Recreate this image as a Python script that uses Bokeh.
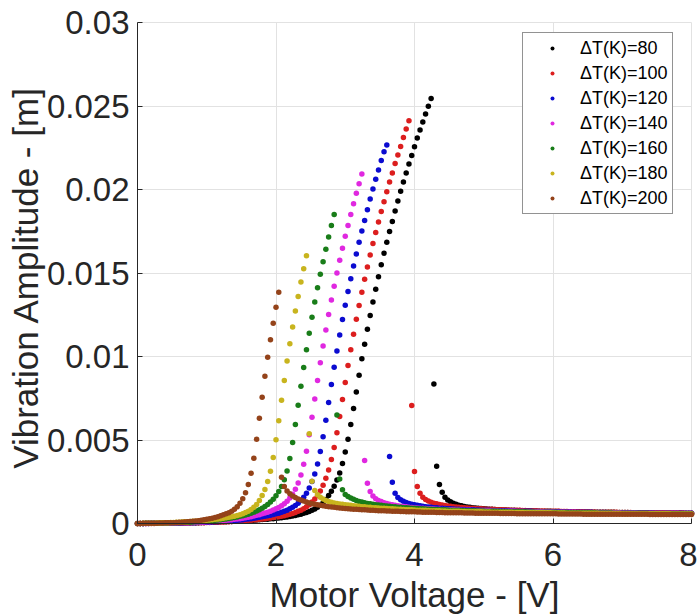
import math
from bokeh.plotting import figure
from bokeh.models import Range1d, FixedTicker, Legend, LegendItem, Label
from bokeh.embed import file_html
from bokeh.resources import INLINE

# ---- sweep grid (motor voltage, V) ----
voltage_step = 0.04
n_points = 201
voltage = [round(voltage_step * i, 2) for i in range(n_points)]

series_labels = ["ΔT(K)=80", "ΔT(K)=100", "ΔT(K)=120", "ΔT(K)=140",
                 "ΔT(K)=160", "ΔT(K)=180", "ΔT(K)=200"]
series_colors = ["#000000", "#dc1e1e", "#0b0bd0", "#e028e0",
                 "#197d19", "#c8b41e", "#94431a"]

x_ticks = [0, 2, 4, 6, 8]
x_tick_labels = ["0", "2", "4", "6", "8"]
y_ticks = [0, 0.005, 0.01, 0.015, 0.02, 0.025, 0.03]
y_tick_labels = ["0", "0.005", "0.01", "0.015", "0.02", "0.025", "0.03"]

# ---- vibration amplitude (m), dT = 80 K ----
amp_80_rise = [
    0, 0, 0, 0.00001, 0.00001, 0.00001, 0.00001, 0.00001, 0.00001, 0.00001,
    0.00001, 0.00002, 0.00002, 0.00002, 0.00002, 0.00003, 0.00003, 0.00003, 0.00004, 0.00004,
    0.00004, 0.00005, 0.00005, 0.00006, 0.00006, 0.00007, 0.00007, 0.00008, 0.00008, 0.00009,
    0.0001, 0.0001, 0.00011, 0.00012, 0.00012, 0.00013, 0.00014, 0.00015, 0.00016, 0.00017,
    0.00018, 0.00019, 0.0002, 0.00021, 0.00022, 0.00024, 0.00025, 0.00026, 0.00028, 0.00029,
    0.00031, 0.00033, 0.00035, 0.00037, 0.00039, 0.00042, 0.00045, 0.00048, 0.00052, 0.00056,
    0.00061, 0.00066, 0.00072, 0.00079, 0.00087, 0.00097, 0.00109, 0.00124, 0.00144, 0.00168,
    0.00193, 0.00223, 0.00261, 0.00303, 0.0036, 0.00428, 0.00505, 0.00593, 0.00688, 0.00788,
    0.00888, 0.00986, 0.01073, 0.01163, 0.01245, 0.01327, 0.01402, 0.01478, 0.0155, 0.01618,
    0.01684, 0.01748, 0.01809, 0.01871, 0.01931, 0.01989, 0.02045, 0.02099, 0.02153, 0.02204,
    0.02256, 0.02308, 0.02356, 0.02404, 0.02452, 0.02498, 0.02545]
amp_80_fall = [
    0.00836, 0.00343, 0.00233, 0.00187, 0.00157, 0.00141, 0.0013, 0.00122, 0.00115, 0.0011,
    0.00106, 0.00102, 0.00099, 0.00097,
    0.00095, 0.00093, 0.00091, 0.0009, 0.00088, 0.00087, 0.00086, 0.00085, 0.00084, 0.00083,
    0.00082, 0.00081, 0.00081, 0.0008, 0.00079, 0.00079, 0.00078, 0.00078, 0.00077, 0.00077,
    0.00076, 0.00076, 0.00075, 0.00075, 0.00074, 0.00074, 0.00074, 0.00073, 0.00073, 0.00072,
    0.00072, 0.00072, 0.00071, 0.00071, 0.00071, 0.0007, 0.0007, 0.0007, 0.0007, 0.00069,
    0.00069, 0.00069, 0.00069, 0.00068, 0.00068, 0.00068, 0.00068, 0.00067, 0.00067, 0.00067,
    0.00067, 0.00067, 0.00066, 0.00066, 0.00066, 0.00066, 0.00066, 0.00065, 0.00065, 0.00065,
    0.00065, 0.00065, 0.00065, 0.00064, 0.00064, 0.00064, 0.00064, 0.00064, 0.00064, 0.00063,
    0.00063, 0.00063, 0.00063, 0.00063, 0.00063, 0.00063, 0.00062, 0.00062, 0.00062, 0.00062]

# ---- dT = 100 K ----
amp_100_rise = [
    0, 0, 0, 0, 0, 0, 0, 0.00001, 0.00001, 0.00001,
    0.00001, 0.00001, 0.00001, 0.00002, 0.00002, 0.00002, 0.00002, 0.00003, 0.00003, 0.00003,
    0.00004, 0.00004, 0.00004, 0.00005, 0.00005, 0.00006, 0.00006, 0.00007, 0.00007, 0.00008,
    0.00009, 0.00009, 0.0001, 0.00011, 0.00012, 0.00013, 0.00014, 0.00015, 0.00016, 0.00017,
    0.00019, 0.0002, 0.00022, 0.00023, 0.00025, 0.00027, 0.00029, 0.00031, 0.00033, 0.00036,
    0.00038, 0.00041, 0.00044, 0.00047, 0.00051, 0.00055, 0.0006, 0.00066, 0.00073, 0.0008,
    0.00089, 0.001, 0.00113, 0.00128, 0.00146, 0.00168, 0.00195, 0.00229, 0.00271, 0.00321,
    0.00383, 0.00455, 0.00543, 0.0064, 0.00742, 0.00844, 0.00946, 0.01041, 0.01133, 0.01223,
    0.01305, 0.01384, 0.01462, 0.01536, 0.01608, 0.01676, 0.01742, 0.01805, 0.01869, 0.01927,
    0.01987, 0.02045, 0.02099, 0.02155, 0.02206, 0.02258, 0.02312, 0.02362, 0.02412]
amp_100_fall = [
    0.00706, 0.00311, 0.00221, 0.00181, 0.00157, 0.00143, 0.00134, 0.00127, 0.00122, 0.00118,
    0.00114, 0.00111, 0.00108, 0.00105, 0.00103, 0.00101, 0.00099, 0.00097, 0.00096, 0.00094,
    0.00093, 0.00092,
    0.00091, 0.0009, 0.00089, 0.00088, 0.00087, 0.00086, 0.00085, 0.00085, 0.00084, 0.00083,
    0.00083, 0.00082, 0.00081, 0.00081, 0.0008, 0.0008, 0.00079, 0.00079, 0.00078, 0.00078,
    0.00077, 0.00077, 0.00076, 0.00076, 0.00075, 0.00075, 0.00075, 0.00074, 0.00074, 0.00073,
    0.00073, 0.00073, 0.00072, 0.00072, 0.00072, 0.00071, 0.00071, 0.00071, 0.0007, 0.0007,
    0.0007, 0.00069, 0.00069, 0.00069, 0.00069, 0.00068, 0.00068, 0.00068, 0.00068, 0.00067,
    0.00067, 0.00067, 0.00067, 0.00066, 0.00066, 0.00066, 0.00066, 0.00066, 0.00065, 0.00065,
    0.00065, 0.00065, 0.00065, 0.00065, 0.00064, 0.00064, 0.00064, 0.00064, 0.00064, 0.00064,
    0.00063, 0.00063, 0.00063, 0.00063, 0.00063, 0.00063, 0.00063, 0.00062, 0.00062, 0.00062]

# ---- dT = 120 K ----
amp_120_rise = [
    0, 0, 0, 0, 0, 0.00001, 0.00001, 0.00001, 0.00001, 0.00001,
    0.00002, 0.00002, 0.00002, 0.00002, 0.00003, 0.00003, 0.00003, 0.00004, 0.00004, 0.00004,
    0.00005, 0.00005, 0.00006, 0.00006, 0.00007, 0.00008, 0.00008, 0.00009, 0.0001, 0.00011,
    0.00012, 0.00013, 0.00014, 0.00015, 0.00016, 0.00018, 0.00019, 0.00021, 0.00023, 0.00025,
    0.00027, 0.00029, 0.00031, 0.00034, 0.00037, 0.0004, 0.00043, 0.00046, 0.0005, 0.00054,
    0.00058, 0.00062, 0.00067, 0.00073, 0.0008, 0.00088, 0.00097, 0.00108, 0.00121, 0.00137,
    0.00157, 0.00181, 0.00212, 0.00251, 0.00297, 0.00357, 0.00431, 0.00519, 0.00618, 0.00724,
    0.00832, 0.00936, 0.01033, 0.01129, 0.01221, 0.01307, 0.01389, 0.01466, 0.01542, 0.01614,
    0.01684, 0.01752, 0.01815, 0.01879, 0.01943, 0.02003, 0.02061, 0.02117, 0.02173, 0.02226,
    0.02266]
amp_120_fall = [
    0.00401, 0.00247, 0.00181, 0.00155, 0.00142, 0.00133, 0.00126, 0.0012, 0.00116, 0.00112,
    0.00109, 0.00106, 0.00103, 0.00101, 0.00099, 0.00097, 0.00095, 0.00094, 0.00092, 0.00091,
    0.0009, 0.00089, 0.00088, 0.00087, 0.00086, 0.00085, 0.00084, 0.00084, 0.00083, 0.00082,
    0.00082, 0.00081, 0.00081, 0.0008, 0.0008, 0.00079, 0.00079, 0.00078, 0.00078, 0.00077,
    0.00077, 0.00076, 0.00076, 0.00076, 0.00075, 0.00075, 0.00074, 0.00074, 0.00074, 0.00073,
    0.00073, 0.00073, 0.00072, 0.00072, 0.00072, 0.00071, 0.00071, 0.00071, 0.0007, 0.0007,
    0.0007, 0.0007, 0.00069, 0.00069, 0.00069, 0.00069, 0.00068, 0.00068, 0.00068, 0.00068,
    0.00067, 0.00067, 0.00067, 0.00067, 0.00066, 0.00066, 0.00066, 0.00066, 0.00066, 0.00065,
    0.00065, 0.00065, 0.00065, 0.00065, 0.00064, 0.00064, 0.00064, 0.00064, 0.00064, 0.00064,
    0.00063, 0.00063, 0.00063, 0.00063, 0.00063, 0.00063, 0.00062, 0.00062, 0.00062, 0.00062,
    0.00062, 0.00062, 0.00062, 0.00061, 0.00061, 0.00061, 0.00061, 0.00061, 0.00061, 0.00061]

# ---- dT = 140 K ----
amp_140_rise = [
    0, 0, 0, 0, 0.00001, 0.00001, 0.00001, 0.00001, 0.00002, 0.00002,
    0.00002, 0.00002, 0.00003, 0.00003, 0.00003, 0.00004, 0.00004, 0.00005, 0.00005, 0.00006,
    0.00006, 0.00007, 0.00008, 0.00008, 0.00009, 0.0001, 0.00011, 0.00012, 0.00013, 0.00014,
    0.00016, 0.00017, 0.00019, 0.00021, 0.00023, 0.00025, 0.00027, 0.00029, 0.00032, 0.00035,
    0.00038, 0.00041, 0.00045, 0.00049, 0.00053, 0.00058, 0.00063, 0.00068, 0.00074, 0.00081,
    0.00088, 0.00096, 0.00106, 0.00118, 0.00133, 0.00152, 0.00175, 0.00205, 0.00243, 0.00291,
    0.00355, 0.00433, 0.00531, 0.00636, 0.00746, 0.00856, 0.00962, 0.01063, 0.01159, 0.01251,
    0.01339, 0.0142, 0.015, 0.01576, 0.01648, 0.0172, 0.01785, 0.01851, 0.01915, 0.01977,
    0.02035, 0.02093]
amp_140_fall = [
    0.00377, 0.00241, 0.00192, 0.00164, 0.00148, 0.00138, 0.00131, 0.00125, 0.0012, 0.00116,
    0.00112, 0.00109, 0.00106, 0.00104, 0.00102, 0.001, 0.00098, 0.00096, 0.00095,
    0.00093, 0.00092, 0.00091, 0.0009, 0.00089, 0.00088, 0.00087, 0.00086, 0.00085, 0.00084,
    0.00084, 0.00083, 0.00082, 0.00082, 0.00081, 0.00081, 0.0008, 0.0008, 0.00079, 0.00079,
    0.00078, 0.00078, 0.00077, 0.00077, 0.00077, 0.00076, 0.00076, 0.00075, 0.00075, 0.00075,
    0.00074, 0.00074, 0.00074, 0.00073, 0.00073, 0.00073, 0.00072, 0.00072, 0.00072, 0.00071,
    0.00071, 0.00071, 0.0007, 0.0007, 0.0007, 0.0007, 0.00069, 0.00069, 0.00069, 0.00069,
    0.00068, 0.00068, 0.00068, 0.00068, 0.00067, 0.00067, 0.00067, 0.00067, 0.00066, 0.00066,
    0.00066, 0.00066, 0.00066, 0.00065, 0.00065, 0.00065, 0.00065, 0.00065, 0.00064, 0.00064,
    0.00064, 0.00064, 0.00064, 0.00064, 0.00063, 0.00063, 0.00063, 0.00063, 0.00063, 0.00063,
    0.00062, 0.00062, 0.00062, 0.00062, 0.00062, 0.00062, 0.00062, 0.00061, 0.00061, 0.00061,
    0.00061, 0.00061, 0.00061, 0.00061, 0.00061, 0.0006, 0.0006, 0.0006, 0.0006, 0.0006]

# ---- dT = 160 K ----
amp_160_rise = [
    0, 0, 0, 0.00001, 0.00001, 0.00001, 0.00002, 0.00002, 0.00002, 0.00003,
    0.00003, 0.00003, 0.00004, 0.00004, 0.00005, 0.00005, 0.00006, 0.00007, 0.00007, 0.00008,
    0.00009, 0.0001, 0.00011, 0.00012, 0.00013, 0.00014, 0.00016, 0.00017, 0.00019, 0.00021,
    0.00023, 0.00025, 0.00027, 0.0003, 0.00033, 0.00036, 0.00039, 0.00043, 0.00047, 0.00051,
    0.00056, 0.00062, 0.00068, 0.00075, 0.00083, 0.00092, 0.00102, 0.00114, 0.00128, 0.00145,
    0.00166, 0.00191, 0.00222, 0.00262, 0.00315, 0.00389, 0.00485, 0.00593, 0.00708, 0.00822,
    0.00934, 0.0104, 0.01139, 0.01235, 0.01327, 0.01411, 0.01492, 0.01568, 0.01642, 0.01716,
    0.01784, 0.01851]
amp_160_fall = [
    0.0065, 0.00267, 0.00202, 0.00174, 0.00161, 0.00152, 0.00145, 0.00138, 0.00132, 0.00128,
    0.00124, 0.0012, 0.00118, 0.00115, 0.00113, 0.00111, 0.00109, 0.00107, 0.00105,
    0.00103, 0.00101, 0.001, 0.00098, 0.00097, 0.00095, 0.00094, 0.00093, 0.00092, 0.00091,
    0.0009, 0.00089, 0.00088, 0.00087, 0.00086, 0.00085, 0.00084, 0.00084, 0.00083, 0.00082,
    0.00082, 0.00081, 0.0008, 0.0008, 0.00079, 0.00079, 0.00078, 0.00078, 0.00077, 0.00077,
    0.00076, 0.00076, 0.00075, 0.00075, 0.00075, 0.00074, 0.00074, 0.00073, 0.00073, 0.00073,
    0.00072, 0.00072, 0.00072, 0.00071, 0.00071, 0.00071, 0.0007, 0.0007, 0.0007, 0.0007,
    0.00069, 0.00069, 0.00069, 0.00068, 0.00068, 0.00068, 0.00068, 0.00067, 0.00067, 0.00067,
    0.00067, 0.00066, 0.00066, 0.00066, 0.00066, 0.00065, 0.00065, 0.00065, 0.00065, 0.00065,
    0.00064, 0.00064, 0.00064, 0.00064, 0.00064, 0.00063, 0.00063, 0.00063, 0.00063, 0.00063,
    0.00063, 0.00062, 0.00062, 0.00062, 0.00062, 0.00062, 0.00062, 0.00061, 0.00061, 0.00061,
    0.00061, 0.00061, 0.00061, 0.00061, 0.0006, 0.0006, 0.0006, 0.0006, 0.0006, 0.0006,
    0.0006, 0.0006, 0.00059, 0.00059, 0.00059, 0.00059, 0.00059, 0.00059, 0.00059, 0.00059]

# ---- dT = 180 K ----
amp_180_rise = [
    0, 0, 0.00001, 0.00001, 0.00001, 0.00002, 0.00002, 0.00003, 0.00003, 0.00004,
    0.00004, 0.00005, 0.00006, 0.00006, 0.00007, 0.00008, 0.00009, 0.0001, 0.00011, 0.00012,
    0.00013, 0.00014, 0.00015, 0.00017, 0.00018, 0.0002, 0.00021, 0.00023, 0.00025, 0.00027,
    0.00029, 0.00031, 0.00034, 0.00037, 0.0004, 0.00044, 0.00048, 0.00053, 0.00059, 0.00066,
    0.00074, 0.00084, 0.00097, 0.00114, 0.00138, 0.00168, 0.00203, 0.00251, 0.00313, 0.00395,
    0.00501, 0.00616, 0.00738, 0.00856, 0.00973, 0.01077, 0.01177, 0.01273, 0.0136, 0.01446,
    0.01526, 0.01604]
amp_180_fall = [
    0.00537, 0.00253, 0.00198, 0.00172, 0.00157, 0.00146, 0.00138, 0.00132, 0.00127, 0.00123,
    0.0012, 0.00117, 0.00115, 0.00113, 0.00111, 0.00109, 0.00107, 0.00105, 0.00103,
    0.00101, 0.001, 0.00098, 0.00097, 0.00095, 0.00094, 0.00093, 0.00092, 0.00091, 0.0009,
    0.00089, 0.00088, 0.00087, 0.00086, 0.00085, 0.00084, 0.00083, 0.00083, 0.00082, 0.00081,
    0.0008, 0.0008, 0.00079, 0.00079, 0.00078, 0.00077, 0.00077, 0.00076, 0.00076, 0.00075,
    0.00075, 0.00074, 0.00074, 0.00073, 0.00073, 0.00073, 0.00072, 0.00072, 0.00071, 0.00071,
    0.00071, 0.0007, 0.0007, 0.0007, 0.00069, 0.00069, 0.00069, 0.00068, 0.00068, 0.00068,
    0.00068, 0.00067, 0.00067, 0.00067, 0.00067, 0.00066, 0.00066, 0.00066, 0.00066, 0.00065,
    0.00065, 0.00065, 0.00065, 0.00065, 0.00064, 0.00064, 0.00064, 0.00064, 0.00064, 0.00063,
    0.00063, 0.00063, 0.00063, 0.00063, 0.00062, 0.00062, 0.00062, 0.00062, 0.00062, 0.00062,
    0.00061, 0.00061, 0.00061, 0.00061, 0.00061, 0.00061, 0.0006, 0.0006, 0.0006, 0.0006,
    0.0006, 0.0006, 0.0006, 0.0006, 0.00059, 0.00059, 0.00059, 0.00059, 0.00059, 0.00059,
    0.00059, 0.00059, 0.00058, 0.00058, 0.00058, 0.00058, 0.00058, 0.00058, 0.00058, 0.00058,
    0.00058, 0.00058, 0.00057, 0.00057, 0.00057, 0.00057, 0.00057, 0.00057, 0.00057, 0.00057]

# ---- dT = 200 K ----
amp_200_rise = [
    0, 0, 0.00001, 0.00001, 0.00001, 0.00002, 0.00002, 0.00002, 0.00003, 0.00003,
    0.00004, 0.00004, 0.00005, 0.00005, 0.00006, 0.00007, 0.00008, 0.00009, 0.0001, 0.00012,
    0.00013, 0.00015, 0.00017, 0.00019, 0.00022, 0.00025, 0.00028, 0.00032, 0.00036, 0.00041,
    0.00046, 0.00052, 0.00058, 0.00065, 0.00074, 0.00085, 0.001, 0.00121, 0.00148, 0.00184,
    0.00233, 0.00301, 0.00391, 0.00505, 0.0063, 0.00756, 0.00882, 0.00995, 0.01101, 0.01199,
    0.01295, 0.01384]
amp_200_fall = [
    0.00277, 0.00222, 0.00195, 0.00178, 0.00165, 0.00155, 0.00147, 0.0014, 0.00134, 0.00128,
    0.00123, 0.00119, 0.00115, 0.00112, 0.00109, 0.00106, 0.00103, 0.00101, 0.00099,
    0.00097, 0.00095, 0.00093, 0.00092, 0.0009, 0.00089, 0.00087, 0.00086, 0.00085, 0.00084,
    0.00083, 0.00082, 0.00081, 0.0008, 0.00079, 0.00078, 0.00077, 0.00077, 0.00076, 0.00075,
    0.00075, 0.00074, 0.00073, 0.00073, 0.00072, 0.00072, 0.00071, 0.00071, 0.0007, 0.0007,
    0.00069, 0.00069, 0.00068, 0.00068, 0.00068, 0.00067, 0.00067, 0.00066, 0.00066, 0.00066,
    0.00065, 0.00065, 0.00065, 0.00064, 0.00064, 0.00064, 0.00064, 0.00063, 0.00063, 0.00063,
    0.00063, 0.00062, 0.00062, 0.00062, 0.00062, 0.00061, 0.00061, 0.00061, 0.00061, 0.00061,
    0.0006, 0.0006, 0.0006, 0.0006, 0.0006, 0.0006, 0.00059, 0.00059, 0.00059, 0.00059,
    0.00059, 0.00059, 0.00059, 0.00058, 0.00058, 0.00058, 0.00058, 0.00058, 0.00058, 0.00058,
    0.00058, 0.00057, 0.00057, 0.00057, 0.00057, 0.00057, 0.00057, 0.00057, 0.00057, 0.00057,
    0.00056, 0.00056, 0.00056, 0.00056, 0.00056, 0.00056, 0.00056, 0.00056, 0.00056, 0.00056,
    0.00056, 0.00055, 0.00055, 0.00055, 0.00055, 0.00055, 0.00055, 0.00055, 0.00055, 0.00055,
    0.00055, 0.00055, 0.00055, 0.00055, 0.00054, 0.00054, 0.00054, 0.00054, 0.00054, 0.00054,
    0.00054, 0.00054, 0.00054, 0.00054, 0.00054, 0.00054, 0.00054, 0.00054, 0.00054, 0.00054]

amplitudes = [
    amp_80_rise + amp_80_fall,
    amp_100_rise + amp_100_fall,
    amp_120_rise + amp_120_fall,
    amp_140_rise + amp_140_fall,
    amp_160_rise + amp_160_fall,
    amp_180_rise + amp_180_fall,
    amp_200_rise + amp_200_fall,
]

bad = [(lab, len(a)) for lab, a in zip(series_labels, amplitudes) if len(a) != n_points]
if bad:
    raise ValueError("length mismatch: %r" % bad)

FONT = "Liberation Sans"
AX = "#262626"

# ---- layout: the plotting frame covers the whole canvas; the axes sit at 0 ----
W, H = 697, 614
AX_L, AX_R, AX_T, AX_B = 137, 691, 22, 523      # pixel box of the axes area
X_MIN, X_MAX = 0, 8
Y_MIN, Y_MAX = 0, 0.03
px_per_x = (AX_R - AX_L) / (X_MAX - X_MIN)
px_per_y = (AX_B - AX_T) / (Y_MAX - Y_MIN)
x_range = Range1d(X_MIN - AX_L / px_per_x, X_MAX + (W - AX_R) / px_per_x)
y_range = Range1d(Y_MIN - (H - AX_B) / px_per_y, Y_MAX + AX_T / px_per_y)

p = figure(width=W, height=H, output_backend="svg", toolbar_location=None,
           x_range=x_range, y_range=y_range,
           min_border_left=0, min_border_right=0, min_border_top=0, min_border_bottom=0)
p.outline_line_color = None
p.background_fill_color = "white"
p.border_fill_color = "white"

items = []
for lab, col, amp in zip(series_labels, series_colors, amplitudes):
    r = p.scatter(voltage, amp, marker="circle", size=5.5, fill_color=col, line_color=None)
    items.append(LegendItem(label=lab, renderers=[r]))

legend = Legend(items=items, location=(522, H - 214))
legend.label_text_font = FONT
legend.label_text_font_size = "18px"
legend.label_text_color = "#000000"
legend.border_line_color = AX
legend.border_line_width = 1
legend.background_fill_color = "white"
legend.background_fill_alpha = 1.0
legend.padding = 4
legend.spacing = 3
legend.glyph_width = 50
legend.glyph_height = 10
legend.label_height = 22
legend.label_standoff = 3
p.add_layout(legend)

p.xaxis.ticker = FixedTicker(ticks=x_ticks)
p.xaxis.major_label_overrides = {t: s for t, s in zip(x_ticks, x_tick_labels)}
p.xaxis.fixed_location = Y_MIN
p.xaxis.bounds = (X_MIN, X_MAX)
p.yaxis.ticker = FixedTicker(ticks=y_ticks)
p.yaxis.major_label_overrides = {t: s for t, s in zip(y_ticks, y_tick_labels)}
p.yaxis.fixed_location = X_MIN
p.yaxis.bounds = (Y_MIN, Y_MAX)
p.xgrid.ticker = FixedTicker(ticks=x_ticks)
p.xgrid.cross_bounds = (Y_MIN, Y_MAX)
p.ygrid.ticker = FixedTicker(ticks=y_ticks)
p.ygrid.cross_bounds = (X_MIN, X_MAX)
p.grid.grid_line_color = "#e2e2e2"
p.grid.grid_line_width = 1

for ax in (p.xaxis, p.yaxis):
    ax.axis_line_color = AX
    ax.axis_line_width = 1
    ax.major_tick_line_color = AX
    ax.major_tick_in = 5
    ax.major_tick_out = 0
    ax.minor_tick_line_color = None
    ax.major_label_text_font = FONT
    ax.major_label_text_font_size = "33px"
    ax.major_label_text_color = AX
p.xaxis.major_label_standoff = 19
p.yaxis.major_label_standoff = 8

# axis titles (placed in axis units, outside the 0..8 / 0..0.03 box)
x_title = Label(x=(X_MIN + X_MAX) / 2, y=Y_MIN - 71 / px_per_y,
                text="Motor Voltage - [V]", text_align="center", text_baseline="middle",
                text_font=FONT, text_font_size="35px", text_color=AX)
y_title = Label(x=X_MIN - (AX_L - 25) / px_per_x, y=Y_MAX - (277 - AX_T) / px_per_y,
                angle=math.pi / 2,
                text="Vibration Amplitude - [m]", text_align="center", text_baseline="middle",
                text_font=FONT, text_font_size="35px", text_color=AX)
p.add_layout(x_title)
p.add_layout(y_title)

open("out.html", "w").write(file_html(p, INLINE))
